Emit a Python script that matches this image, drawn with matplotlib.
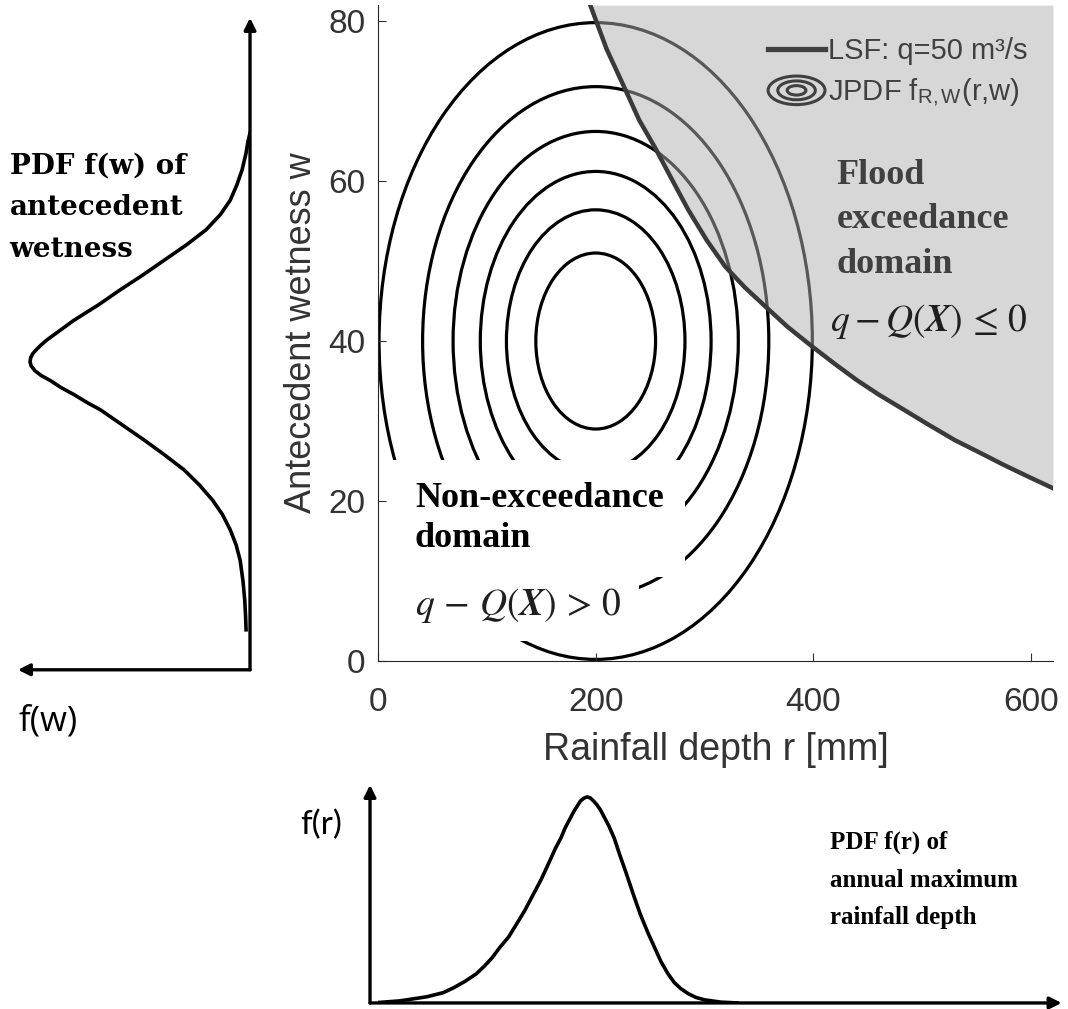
import matplotlib.pyplot as plt
from matplotlib.patches import Ellipse
from matplotlib.lines import Line2D
from matplotlib.legend_handler import HandlerBase

plt.rcParams['mathtext.fontset'] = 'stix'
plt.rcParams['font.family'] = ['Liberation Sans', 'DejaVu Sans']

# JPDF contours (ellipses around the mean), semi-axes
ring_center = (200, 40)
ring_a = [55, 82, 106, 131, 159, 199]   # half width in r [mm]
ring_b = [11, 16.4, 21.2, 26.2, 31.8, 39.8]  # half height in w

# limit state function q = 50 m3/s
lsf_r = [195, 210, 227, 240, 254, 270, 285, 302, 319, 337, 356, 376, 398, 420, 440, 460, 482, 505, 530, 552, 575, 598, 620]
lsf_w = [82, 76.5, 71.5, 67.6, 64.3, 60.2, 56.4, 52.6, 49.3, 46.7, 44.3, 41.8, 39.4, 37.1, 35.1, 33.3, 31.5, 29.6, 27.6, 26.1, 24.5, 23.0, 21.6]

# marginal PDF of antecedent wetness (relative density)
pdf_w = [66, 65, 63.5, 61.4, 59.5, 57.6, 55.8, 53.9, 52, 50.1, 48.2, 46.4, 44.5, 42.6, 41.8, 41, 40.2, 39.5, 38.9,
         38.4, 37.9, 37.4, 36.9, 36.3, 35.7, 35.1, 34.2, 33.3, 32.3, 31.4, 29.5, 27.6, 25.8, 23.9, 22, 20.1, 18.3,
         16.4, 14.5, 12.6, 10, 7.6, 5.5, 3.9]
pdf_fw = [0.0, 0.009, 0.018, 0.036, 0.06, 0.09, 0.135, 0.2, 0.29, 0.39, 0.49, 0.59, 0.69, 0.8, 0.84, 0.88, 0.92,
          0.95, 0.972, 0.988, 0.997, 1.0, 0.995, 0.978, 0.95, 0.91, 0.86, 0.8, 0.74, 0.68, 0.58, 0.48, 0.39, 0.3,
          0.23, 0.17, 0.125, 0.09, 0.063, 0.045, 0.032, 0.024, 0.02, 0.018]

# marginal PDF of annual maximum rainfall depth (relative density)
pdf_r = [-5, 20, 45, 60, 70, 80, 90, 98, 105, 112, 120, 127, 135, 142, 150, 157, 163, 168, 172, 176, 180, 183, 186,
         189, 192, 195, 198, 201, 204, 208, 212, 217, 222, 228, 235, 241, 248, 254, 260, 266, 272, 278, 285, 292,
         300, 315, 330]
pdf_fr = [0, 0.01, 0.03, 0.05, 0.075, 0.105, 0.14, 0.18, 0.22, 0.27, 0.32, 0.38, 0.45, 0.52, 0.6, 0.68, 0.75, 0.8,
          0.85, 0.89, 0.93, 0.955, 0.98, 0.993, 1.0, 0.995, 0.98, 0.962, 0.94, 0.9, 0.86, 0.8, 0.72, 0.63, 0.52,
          0.43, 0.34, 0.27, 0.2, 0.145, 0.1, 0.07, 0.045, 0.027, 0.015, 0.004, 0]

xticks = [0, 200, 400, 600]
yticks = [0, 20, 40, 60, 80]


class HandlerRings(HandlerBase):
    def create_artists(self, legend, orig_handle, xdescent, ydescent, width, height, fontsize, trans):
        cx = 0.5 * width - xdescent
        cy = 0.5 * height - ydescent
        rings = []
        for s in (1.0, 0.66, 0.33):
            rings.append(Ellipse((cx, cy), width * s, height * 1.4 * s, fill=False,
                                 ec='#404040', lw=2.2, transform=trans))
        return rings


fig = plt.figure(figsize=(10.68, 10.09), dpi=100)

# main panel
ax = fig.add_axes([0.3539, 0.3449, 0.6320, 0.6501])
for a, b in zip(ring_a, ring_b):
    ax.add_patch(Ellipse(ring_center, 2 * a, 2 * b, fill=False, ec='black', lw=2.3, zorder=1))
ax.fill_between(lsf_r, lsf_w, 82, color='#b0b0b0', alpha=0.5, lw=0, zorder=2)
ax.plot(lsf_r, lsf_w, color='#3a3a3a', lw=3.2, zorder=3)

ax.set_xlim(0, 620)
ax.set_ylim(0, 82)
ax.set_xticks(xticks)
ax.set_yticks(yticks)
for s in ['top', 'right']:
    ax.spines[s].set_visible(False)
for s in ['left', 'bottom']:
    ax.spines[s].set_color('#262626')
ax.tick_params(direction='in', length=6, colors='#333333', labelsize=24)
ax.tick_params(axis='x', pad=19)
ax.tick_params(axis='y', pad=9)
ax.set_xlabel('Rainfall depth r [mm]', fontsize=27, color='#333333')
ax.set_ylabel('Antecedent wetness w', fontsize=26, color='#333333')
ax.xaxis.set_label_coords(0.5, -0.109)
ax.yaxis.set_label_coords(-0.088, 0.5)

handles = [Line2D([], [], color='#404040', lw=3.8), Ellipse((0, 0), 1, 1)]
labels = ['LSF: q=50 m³/s', r'JPDF f$_{\mathregular{R,W}}$(r,w)']
ax.legend(handles, labels, loc='upper left', bbox_to_anchor=(0.578, 0.951), frameon=False,
          fontsize=21, labelcolor='#404040', handlelength=1.95, handletextpad=0.1,
          borderaxespad=0, borderpad=0, labelspacing=0.4,
          handler_map={Ellipse: HandlerRings()})

ax.text(421, 62.8, 'Flood\nexceedance\ndomain', family='Liberation Serif', weight='bold',
        fontsize=26, color='#404040', va='top', linespacing=1.46, zorder=5)
ax.text(415, 42.4, r'$q-Q(\mathbfit{X})\,\leq\,0$', fontsize=27, color='#1f1f1f', va='center', zorder=5)

ax.text(34, 22.4, 'Non-exceedance\ndomain', family='Liberation Serif', weight='bold',
        fontsize=26, color='black', va='top', linespacing=1.3, zorder=5,
        bbox=dict(boxstyle='square,pad=0.6', fc='white', ec='none'))
ax.text(34, 7, r'$q\,-\,Q(\mathbfit{X})\,>\,0$', fontsize=27, color='#1f1f1f', va='center', zorder=5,
        bbox=dict(boxstyle='square,pad=0.45', fc='white', ec='none'))

# left panel: f(w)
axl = fig.add_axes([0.0, 0.3449, 0.2341, 0.6501])
axl.plot(pdf_fw, pdf_w, color='black', lw=2.6)
axl.set_xlim(250 / 220, 0)
axl.set_ylim(0, 82)
axl.axis('off')
arrow = dict(arrowstyle='-|>,head_length=0.7,head_width=0.35', color='black', lw=2.4, shrinkA=0, shrinkB=0)
axl.annotate('', xy=(0, 80.4), xytext=(0, -1.1), arrowprops=arrow, annotation_clip=False)
axl.annotate('', xy=(1.055, -1.1), xytext=(0, -1.1), arrowprops=arrow, annotation_clip=False)
fig.text(0.017, 1 - 722 / 1009, 'f(w)', family='Open Sans', fontsize=25, va='center')
fig.text(0.009, 1 - 153 / 1009, 'PDF f(w) of\nantecedent\nwetness', family='DejaVu Serif', weight='bold',
         fontsize=20, va='top', linespacing=1.68)

# bottom panel: f(r)
axb = fig.add_axes([0.3539, 0.006, 0.6320, 0.2161])
axb.plot(pdf_r, pdf_fr, color='black', lw=2.6)
axb.set_xlim(0, 620)
axb.set_ylim(0, 1.058)
axb.axis('off')
axb.annotate('', xy=(-7.3, 1.058), xytext=(-7.3, 0), arrowprops=arrow, annotation_clip=False)
axb.annotate('', xy=(628, 0), xytext=(-7.3, 0), arrowprops=arrow, annotation_clip=False)
fig.text(0.281, 1 - 825 / 1009, 'f(r)', family='Lato', fontsize=24, va='center')
fig.text(830 / 1068, 1 - 831 / 1009, 'PDF f(r) of\nannual maximum\nrainfall depth', family='Liberation Serif',
         weight='bold', fontsize=18, va='top', linespacing=1.8)

fig.savefig('out.png', dpi=100)
